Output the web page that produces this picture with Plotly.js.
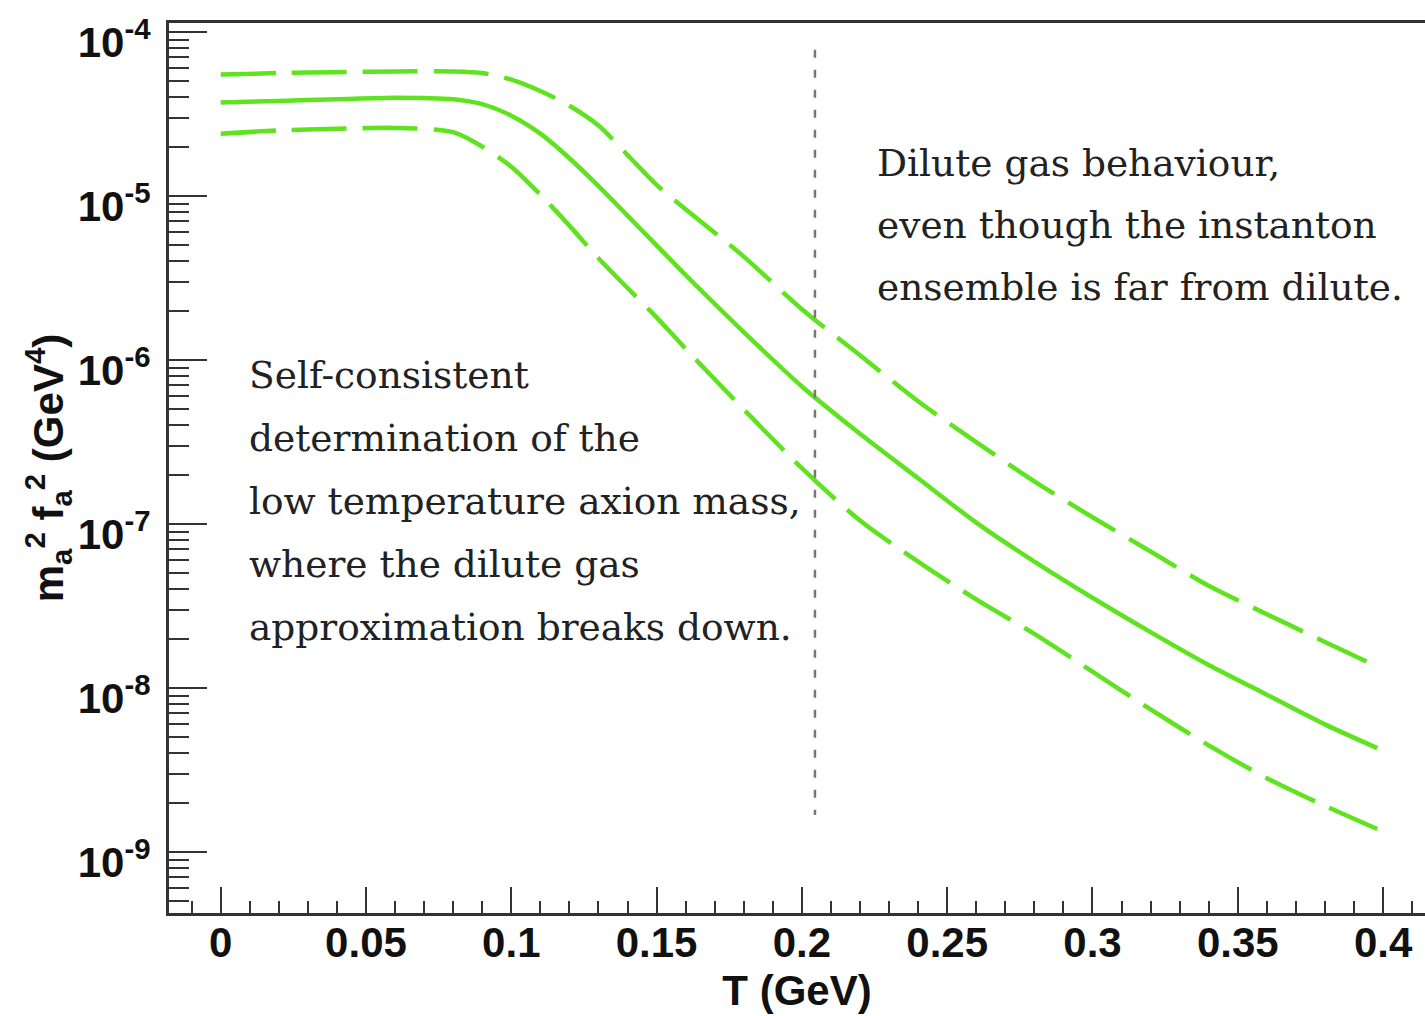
<!DOCTYPE html>
<html>
<head>
<meta charset="utf-8">
<script src="https://cdn.plot.ly/plotly-3.0.1.min.js"></script>
<style>html,body{margin:0;padding:0;background:#fff;}#chart{width:1425px;height:1016px;}</style>
</head>
<body>
<div id="chart"></div>
<script>
// Temperature (GeV)
const T = [0, 0.02, 0.04, 0.06, 0.08, 0.09, 0.10, 0.11, 0.12, 0.13, 0.14, 0.15, 0.16, 0.18, 0.20, 0.22, 0.24, 0.26, 0.28, 0.30, 0.32, 0.34, 0.36, 0.38, 0.398];
// m_a^2 f_a^2 (GeV^4): central estimate
const central = [3.72e-5, 3.80e-5, 3.89e-5, 3.98e-5, 3.89e-5, 3.63e-5, 3.09e-5, 2.40e-5, 1.70e-5, 1.15e-5, 7.6e-6, 5.0e-6, 3.3e-6, 1.48e-6, 6.9e-7, 3.55e-7, 1.9e-7, 1.02e-7, 5.9e-8, 3.55e-8, 2.19e-8, 1.38e-8, 9.1e-9, 6.0e-9, 4.3e-9];
// upper band
const upper = [5.50e-5, 5.62e-5, 5.69e-5, 5.75e-5, 5.75e-5, 5.62e-5, 5.13e-5, 4.37e-5, 3.55e-5, 2.69e-5, 1.78e-5, 1.17e-5, 8.3e-6, 4.27e-6, 2.04e-6, 1.07e-6, 5.6e-7, 3.16e-7, 1.82e-7, 1.10e-7, 6.8e-8, 4.2e-8, 2.82e-8, 1.91e-8, 1.35e-8];
// lower band
const lower = [2.40e-5, 2.51e-5, 2.57e-5, 2.60e-5, 2.45e-5, 2.00e-5, 1.51e-5, 1.02e-5, 6.6e-6, 4.17e-6, 2.75e-6, 1.82e-6, 1.17e-6, 5.0e-7, 2.19e-7, 1.05e-7, 5.9e-8, 3.47e-8, 2.14e-8, 1.26e-8, 7.4e-9, 4.47e-9, 2.82e-9, 1.91e-9, 1.38e-9];
// dotted divider
const dividerT = [0.2045, 0.2045];
const dividerY = [7.8e-5, 1.68e-9];

// axis ticks
const xTickVals = [0, 0.05, 0.1, 0.15, 0.2, 0.25, 0.3, 0.35, 0.4];
const xTickText = ['0', '0.05', '0.1', '0.15', '0.2', '0.25', '0.3', '0.35', '0.4'];
const yTickVals = [1e-9, 1e-8, 1e-7, 1e-6, 1e-5, 1e-4];
const yTickText = ['10<sup>-9</sup>', '10<sup>-8</sup>', '10<sup>-7</sup>', '10<sup>-6</sup>', '10<sup>-5</sup>', '10<sup>-4</sup>'];
const decades = [1e-10, 1e-9, 1e-8, 1e-7, 1e-6, 1e-5, 1e-4];
const mantissas = [2, 3, 4, 5, 6, 7, 8, 9];

// annotation texts
const leftText = ['Self-consistent', 'determination of the', 'low temperature axion mass,', 'where the dilute gas', 'approximation breaks down.'];
const rightText = ['Dilute gas behaviour,', 'even though the instanton', 'ensemble is far from dilute.'];

const yMinor = [];
decades.forEach(d => mantissas.forEach(m => yMinor.push(m * d)));

const green = '#5fe31e';
const traces = [
  {x: T, y: upper, mode: 'lines', line: {color: green, width: 4.5, dash: '55px,16px', shape: 'spline', smoothing: 0.8}, hoverinfo: 'skip'},
  {x: T, y: central, mode: 'lines', line: {color: green, width: 4.5, shape: 'spline', smoothing: 0.8}, hoverinfo: 'skip'},
  {x: T, y: lower, mode: 'lines', line: {color: green, width: 4.5, dash: '55px,16px', shape: 'spline', smoothing: 0.8}, hoverinfo: 'skip'},
  {x: dividerT, y: dividerY, mode: 'lines', line: {color: '#777', width: 2.5, dash: '8px,12px'}, hoverinfo: 'skip'}
];

const W = 1425, H = 1016;
const L = 169, R = 0, TOP = 23, B = 103;
const pw = W - L - R, ph = H - TOP - B;
function px2paperX(p) { return (p - L) / pw; }
function px2paperY(p) { return (H - B - p) / ph; }

const annFont = {family: 'DejaVu Serif', size: 37.5, color: '#222'};
const annotations = [];
leftText.forEach((t, i) => annotations.push({
  text: t, xref: 'paper', yref: 'paper', x: px2paperX(247), y: px2paperY(375 + i * 63),
  xanchor: 'left', yanchor: 'middle', showarrow: false, font: annFont
}));
rightText.forEach((t, i) => annotations.push({
  text: t, xref: 'paper', yref: 'paper', x: px2paperX(875), y: px2paperY(163 + i * 62),
  xanchor: 'left', yanchor: 'middle', showarrow: false, font: annFont
}));

const axisFont = {family: 'Liberation Sans', size: 42, color: '#111', weight: 'bold'};
const layout = {
  width: W, height: H,
  margin: {l: L, r: R, t: TOP, b: B, pad: 0},
  paper_bgcolor: '#fff', plot_bgcolor: '#fff',
  showlegend: false,
  xaxis: {
    range: [-0.01779, 0.41443],
    tickmode: 'array', tickvals: xTickVals, ticktext: xTickText,
    ticks: 'inside', ticklen: 26, tickwidth: 2, tickcolor: '#333',
    minor: {dtick: 0.01, tick0: 0, ticks: 'inside', ticklen: 12, tickwidth: 2, tickcolor: '#333', showgrid: false},
    showline: true, linecolor: '#333', linewidth: 3, mirror: true,
    showgrid: false, zeroline: false,
    tickfont: axisFont, ticklabelstandoff: -9,
    title: {text: '<b>T (GeV)</b>', font: axisFont, standoff: 11}
  },
  yaxis: {
    type: 'log',
    range: [-9.372, -3.945],
    tickmode: 'array', tickvals: yTickVals, ticktext: yTickText,
    ticks: 'inside', ticklen: 38, tickwidth: 2, tickcolor: '#333',
    minor: {tickmode: 'array', tickvals: yMinor, ticks: 'inside', ticklen: 20, tickwidth: 2, tickcolor: '#333', showgrid: false},
    showline: true, linecolor: '#333', linewidth: 3,
    showgrid: false, zeroline: false,
    tickfont: axisFont, ticklabelstandoff: 7, ticklabelshift: 10, ticklabeloverflow: 'allow',
    title: {text: '<b>m<sub>a</sub><sup>2</sup> f<sub>a</sub><sup>2</sup> (GeV<sup>4</sup>)</b>', font: axisFont, standoff: 0}
  },
  annotations: annotations
};

Plotly.newPlot('chart', traces, layout, {staticPlot: true, displayModeBar: false});
</script>
</body>
</html>
